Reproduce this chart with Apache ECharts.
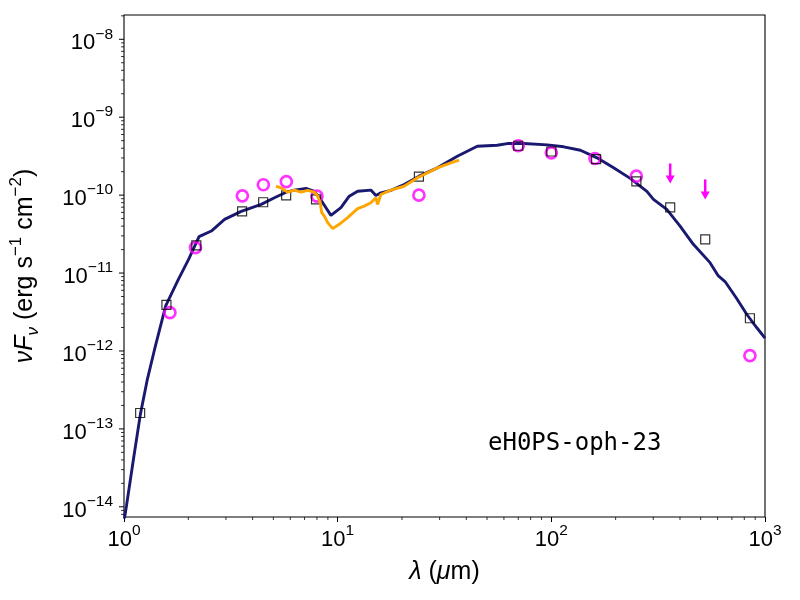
<!DOCTYPE html>
<html>
<head>
<meta charset="utf-8">
<script src="https://cdn.jsdelivr.net/npm/echarts@6/dist/echarts.min.js"></script>
<style>
html, body { margin: 0; background: #fff; }
#main { width: 800px; height: 600px; }
</style>
</head>
<body>
<div id="main"></div>
<script>
// model SED, wavelength in um, nuFnu in erg s-1 cm-2
var modelWave = [1.0, 1.027, 1.108, 1.194, 1.287, 1.388, 1.567, 1.797, 2.006, 2.245, 2.563, 2.955, 3.537,
    4.386, 5.06, 5.736, 6.27, 7.11, 7.78, 8.51, 9.30, 10.36, 11.33, 12.40, 14.30, 15.10, 15.93, 17.74,
    20.46, 24.04, 29.3, 36.3, 45.0, 55.8, 62.2, 74.3, 95.6, 114.3, 136.8, 163.6, 195.6, 234, 280, 300.6,
    347, 400.5, 462, 553, 605, 650, 737, 821, 914, 1000];
var modelFlux = [6.5e-15, 1.03e-14, 4.13e-14, 1.56e-13, 4.36e-13, 1.03e-12, 3.8e-12, 8.3e-12, 1.5e-11, 2.93e-11,
    3.46e-11, 4.89e-11, 6.18e-11, 7.6e-11, 9.27e-11, 1.09e-10, 1.16e-10, 1.22e-10, 1.12e-10, 8.0e-11, 5.5e-11,
    6.9e-11, 9.7e-11, 1.12e-10, 1.16e-10, 9.9e-11, 1.07e-10, 1.15e-10, 1.37e-10, 1.75e-10, 2.24e-10, 3.15e-10,
    4.24e-10, 4.37e-10, 4.59e-10, 4.59e-10, 4.42e-10, 4.17e-10, 3.77e-10, 3.01e-10, 2.24e-10, 1.64e-10,
    1.12e-10, 8.8e-11, 6.56e-11, 4.01e-11, 2.34e-11, 1.36e-11, 9.18e-12, 7.78e-12, 4.71e-12, 2.96e-12,
    2.0e-12, 1.46e-12];

// IRS spectrum
var specWave = [5.15, 5.44, 5.84, 6.27, 6.74, 7.24, 7.78, 8.07, 8.29, 8.42, 8.66, 8.98, 9.48, 10.17, 11.13,
    12.40, 13.31, 14.30, 15.10, 15.37, 15.93, 17.74, 20.46, 23.63, 29.3, 33.8, 36.96];
var specFlux = [1.30e-10, 1.24e-10, 1.09e-10, 1.16e-10, 1.09e-10, 1.15e-10, 1.09e-10, 9.7e-11, 8.0e-11, 5.96e-11,
    5.38e-11, 4.43e-11, 3.72e-11, 4.22e-11, 5.14e-11, 6.7e-11, 7.23e-11, 8.0e-11, 9.26e-11, 7.6e-11, 1.02e-10,
    1.16e-10, 1.30e-10, 1.67e-10, 2.24e-10, 2.6e-10, 2.81e-10];

// model photometry (squares)
var photWave = [1.19, 1.58, 2.18, 3.57, 4.48, 5.74, 7.92, 24, 70, 100, 162, 250, 360, 525, 850];
var photFlux = [1.6e-13, 3.9e-12, 2.27e-11, 6.2e-11, 8.1e-11, 9.9e-11, 8.8e-11, 1.73e-10, 4.3e-10, 3.63e-10,
    2.9e-10, 1.5e-10, 6.95e-11, 2.7e-11, 2.63e-12];

// observed photometry (circles)
var obsWave = [1.64, 2.16, 3.58, 4.49, 5.75, 8.0, 24, 70, 100, 160, 250, 850];
var obsFlux = [3.1e-12, 2.12e-11, 9.8e-11, 1.36e-10, 1.49e-10, 9.7e-11, 1.0e-10, 4.3e-10, 3.49e-10, 2.95e-10,
    1.75e-10, 8.7e-13];

// upper limits
var limWave = [360, 525];
var limFlux = [2.55e-10, 1.59e-10];

var xTicks = [1, 10, 100, 1000];
var yTicks = [1e-14, 1e-13, 1e-12, 1e-11, 1e-10, 1e-9, 1e-8];
var xMin = 1, xMax = 1000, yMin = 7.4e-15, yMax = 2.05e-8;

function pairs(a, b) {
    var out = [];
    for (var i = 0; i < a.length; i++) out.push([a[i], b[i]]);
    return out;
}

function expText(n) {
    return (n < 0 ? '\u2212' : '') + Math.abs(n);
}

// minor ticks at 2..9 of every decade
function minorTicks(lo, hi) {
    var out = [];
    for (var e = -16; e <= 4; e++) {
        for (var m = 2; m <= 9; m++) {
            var v = m * Math.pow(10, e);
            if (v > lo && v < hi) out.push(v);
        }
    }
    return out;
}

var FONT = '"Liberation Sans", Arial, sans-serif';
var tickRich = {
    b: { fontSize: 22, fontFamily: FONT, color: '#000', lineHeight: 28, verticalAlign: 'bottom' },
    s: { fontSize: 15.5, fontFamily: FONT, color: '#000', lineHeight: 16, verticalAlign: 'top' }
};

var xTickData = [];
minorTicks(xMin, xMax).forEach(function (v) { xTickData.push([v, yMin, 3]); });

var yTickData = [];
yTicks.forEach(function (v) { yTickData.push([xMin, v, 5, 1]); });
minorTicks(yMin, yMax).forEach(function (v) { yTickData.push([xMin, v, 3, 0]); });

var chart = echarts.init(document.getElementById('main'));
var option = {
    animation: false,
    backgroundColor: '#fff',
    grid: { left: 122.5, right: 35, top: 15, bottom: 83, show: true, borderColor: '#000', borderWidth: 1.1 },
    xAxis: {
        type: 'log', logBase: 10, min: xMin, max: xMax,
        axisLine: { show: false },
        axisTick: { show: true, length: 5, lineStyle: { color: '#000', width: 1 } },
        splitLine: { show: false },
        axisLabel: {
            margin: 6,
            formatter: function (v) {
                return '{b|10}{s|' + expText(Math.round(Math.log10(v))) + '}';
            },
            rich: tickRich
        },
        name: '{i|\u03bb}{t| (}{i|\u03bc}{t|m)}',
        nameLocation: 'middle',
        nameGap: 43,
        nameTextStyle: {
            rich: {
                t: { fontSize: 25, fontFamily: FONT, color: '#000' },
                i: { fontSize: 25, fontFamily: FONT, fontStyle: 'italic', color: '#000' }
            }
        }
    },
    yAxis: {
        type: 'log', logBase: 10, min: yMin, max: yMax,
        axisLine: { show: false },
        axisTick: { show: false },
        axisLabel: { show: false },
        splitLine: { show: false },
        name: '{i|\u03bdF}{sub|\u03bd}{t| (erg s}{sup|\u22121}{t| cm}{sup|\u22122}{t|)}',
        nameLocation: 'middle',
        nameRotate: 90,
        nameGap: 82,
        nameTextStyle: {
            rich: {
                t: { fontSize: 25, fontFamily: FONT, color: '#000', lineHeight: 34, verticalAlign: 'middle' },
                i: { fontSize: 25, fontFamily: FONT, fontStyle: 'italic', color: '#000', lineHeight: 34, verticalAlign: 'middle' },
                sub: { fontSize: 17, fontFamily: FONT, fontStyle: 'italic', color: '#000', lineHeight: 17, verticalAlign: 'bottom' },
                sup: { fontSize: 17, fontFamily: FONT, color: '#000', lineHeight: 17, verticalAlign: 'top' }
            }
        }
    },
    graphic: [{
        type: 'text', left: 488, top: 432,
        style: { text: 'eH0PS-oph-23', font: '24px "DejaVu Sans Mono", monospace', fill: '#000' }
    }],
    series: [
        {
            name: 'model', type: 'line', data: pairs(modelWave, modelFlux),
            showSymbol: false, clip: true, z: 2,
            lineStyle: { color: '#191970', width: 2.9 }
        },
        {
            name: 'observed', type: 'scatter', data: pairs(obsWave, obsFlux),
            symbol: 'circle', symbolSize: 11, z: 3,
            itemStyle: { color: 'rgba(0,0,0,0)', borderColor: '#ff00ff', borderWidth: 2.7 }
        },
        {
            name: 'model phot', type: 'scatter', data: pairs(photWave, photFlux),
            symbol: 'rect', symbolSize: 9, z: 3,
            itemStyle: { color: 'rgba(0,0,0,0)', borderColor: '#000', borderWidth: 1.2 }
        },
        {
            name: 'spectrum', type: 'line', data: pairs(specWave, specFlux),
            showSymbol: false, z: 4,
            lineStyle: { color: '#ffa500', width: 2.9 }
        },
        {
            name: 'limits', type: 'custom', data: pairs(limWave, limFlux), z: 4,
            renderItem: function (params, api) {
                var p = api.coord([api.value(0), api.value(1)]);
                return {
                    type: 'group',
                    children: [
                        { type: 'line', shape: { x1: p[0], y1: p[1], x2: p[0], y2: p[1] + 13 },
                          style: { stroke: '#ff00ff', lineWidth: 2.5 } },
                        { type: 'polygon', shape: { points: [[p[0] - 4.5, p[1] + 12], [p[0] + 4.5, p[1] + 12], [p[0], p[1] + 20]] },
                          style: { fill: '#ff00ff' } }
                    ]
                };
            }
        },
        {
            name: 'xminor', type: 'custom', data: xTickData, silent: true,
            renderItem: function (params, api) {
                var p = api.coord([api.value(0), yMin]);
                return { type: 'line', shape: { x1: p[0], y1: p[1], x2: p[0], y2: p[1] + api.value(2) },
                         style: { stroke: '#000', lineWidth: 0.8 } };
            }
        },
        {
            name: 'yticks', type: 'custom', data: yTickData, silent: true,
            renderItem: function (params, api) {
                var v = api.value(1);
                var len = api.value(2);
                var p = api.coord([xMin, v]);
                var kids = [{ type: 'line', shape: { x1: p[0] - len, y1: p[1], x2: p[0], y2: p[1] },
                              style: { stroke: '#000', lineWidth: api.value(3) ? 1 : 0.8 } }];
                if (api.value(3)) {
                    kids.push({
                        type: 'text', x: p[0] - 11, y: p[1] + 1,
                        style: {
                            text: '{b|10}{s|' + expText(Math.round(Math.log10(v))) + '}',
                            rich: tickRich, align: 'right', verticalAlign: 'middle'
                        }
                    });
                }
                return { type: 'group', children: kids };
            }
        }
    ]
};
chart.setOption(option);
</script>
</body>
</html>
